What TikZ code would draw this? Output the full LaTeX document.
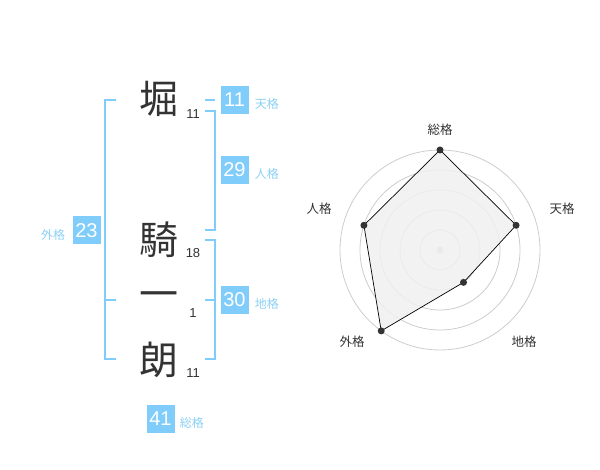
\documentclass[tikz,border=0pt]{standalone}
\usepackage{fontspec}
\setmainfont{Liberation Sans}
\newfontfamily\jpfont{Noto Sans CJK JP}
\usetikzlibrary{positioning}
\definecolor{skyblue}{HTML}{80CCFA}
\definecolor{labelblue}{HTML}{8CD0F5}
\definecolor{inkgray}{HTML}{333333}
\definecolor{ringgray}{HTML}{CCCCCC}
\definecolor{polyfill}{HTML}{F0F0F0}

\begin{document}
\begin{tikzpicture}[x=1pt, y=-1pt, node distance=6pt,
    kanji/.style={text=inkgray, font=\jpfont\fontsize{39}{39}\selectfont, inner sep=0pt},
    strokes/.style={text=inkgray, font=\fontsize{13}{13}\selectfont, inner sep=0pt},
    score/.style={fill=skyblue, text=white, minimum size=28pt, inner sep=0pt, font=\fontsize{20}{20}\selectfont},
    kaku/.style={text=labelblue, font=\jpfont\fontsize{12}{12}\selectfont, inner sep=0pt, yshift=-4pt},
    bracket/.style={draw=skyblue, line width=2pt},
    axislabel/.style={text=inkgray, font=\jpfont\fontsize{12.5}{12.5}\selectfont, inner sep=0pt},
    pt/.style={circle, fill=inkgray, inner sep=0pt, minimum size=7pt}]
    \useasboundingbox (0,0) rectangle (600,470);

    % Characters
    \node[kanji] (Hori) at (159,99) {堀};
    \node[kanji] (Ki) at (159,240) {騎};
    \node[kanji] (Ichi) at (159,300) {一};
    \node[kanji] (Rou) at (159,360) {朗};
    \node[strokes] (HoriN) at (193,114) {11};
    \node[strokes] (KiN) at (193,253) {18};
    \node[strokes] (IchiN) at (193,313) {1};
    \node[strokes] (RouN) at (193,373) {11};

    % Scores
    \node[score] (Ten) at (234.5,100) {11};
    \node[score] (Jin) at (234.5,170) {29};
    \node[score] (Chi) at (234.5,300) {30};
    \node[score] (Gai) at (86.5,230.5) {23};
    \node[score] (Sou) at (160.5,419) {41};
    \node[kaku, right=of Ten] (TenL) {天格};
    \node[kaku, right=of Jin] (JinL) {人格};
    \node[kaku, right=of Chi] (ChiL) {地格};
    \node[kaku, left=7pt of Gai] (GaiL) {外格};
    \node[kaku, right=5pt of Sou] (SouL) {総格};

    % Brackets
    \coordinate (gaiTop) at (116,100);
    \coordinate (gaiMid) at (116,300);
    \coordinate (gaiBot) at (116,359);
    \coordinate (tenTick) at (205,100);
    \coordinate (jinTop) at (205,111);
    \coordinate (jinBot) at (205,230);
    \coordinate (chiTop) at (205,240);
    \coordinate (chiMid) at (205,300);
    \coordinate (chiBot) at (205,359);

    \draw[bracket] (gaiTop) -- ++(-11,0) |- (gaiBot);
    \draw[bracket] (gaiMid) -- ++(-11,0);
    \draw[bracket] (tenTick) -- ++(10,0);
    \draw[bracket] (jinTop) -- ++(9.5,0) |- (jinBot);
    \draw[bracket] (chiTop) -- ++(9.5,0) |- (chiBot);
    \draw[bracket] (chiMid) -- ++(9.5,0);

    % Radar
    \begin{scope}[shift={(440,250)}, y=1pt]
        \coordinate (C) at (0,0);
        \foreach \r in {20,40,...,100}
            \draw[ringgray, line width=0.8pt] (C) circle[radius=\r];
        \fill[ringgray] (C) circle[radius=3.5];

        \coordinate (pSou) at (90:100);
        \coordinate (pTen) at (18:80);
        \coordinate (pChi) at (-54:40);
        \coordinate (pGai) at (-126:100);
        \coordinate (pJin) at (162:80);
        \draw[fill=polyfill, fill opacity=0.85, draw opacity=1, line width=0.7pt]
            (pSou) -- (pTen) -- (pChi) -- (pGai) -- (pJin) -- cycle;
        \foreach \p in {pSou,pTen,pChi,pGai,pJin}
            \node[pt] at (\p) {};

        \node[axislabel] (aSou) at (0,120) {総格};
        \node[axislabel] (aTen) at (122,41) {天格};
        \node[axislabel] (aChi) at (84,-92) {地格};
        \node[axislabel] (aGai) at (-88,-92) {外格};
        \node[axislabel] (aJin) at (-121,41) {人格};
    \end{scope}
\end{tikzpicture}
\end{document}
